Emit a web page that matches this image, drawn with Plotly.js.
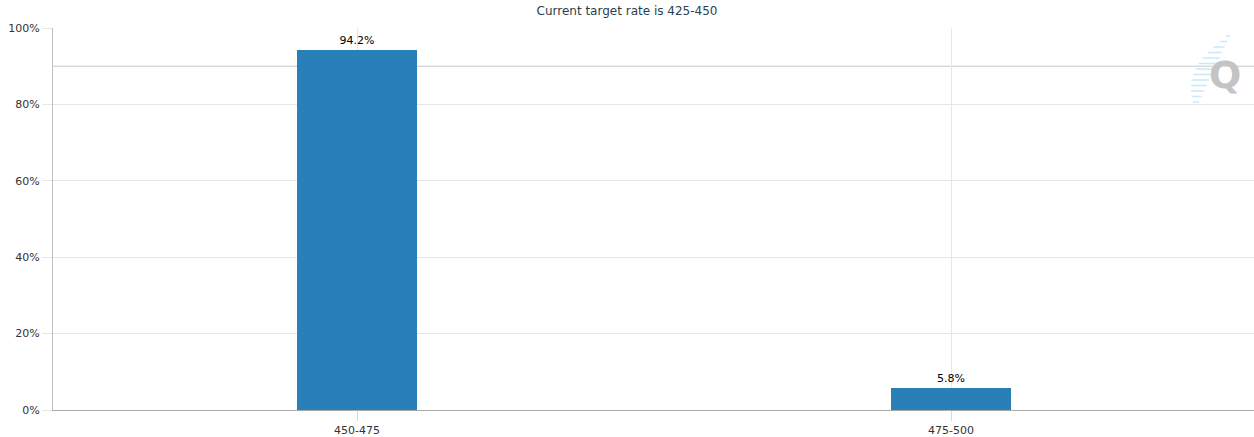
<!DOCTYPE html>
<html>
<head>
<meta charset="utf-8">
<script src="https://cdn.plot.ly/plotly-3.0.1.min.js"></script>
<style>html,body{margin:0;padding:0;background:#fff;}#chart{width:1254px;height:437px;}</style>
</head>
<body>
<div id="chart"></div>
<script>
const categories = ["450-475", "475-500"];
const probabilities = [94.2, 5.8];
const yTicks = [0, 20, 40, 60, 80, 100];
const yTickLabels = ["0%", "20%", "40%", "60%", "80%", "100%"];
const chartTitle = "Current target rate is 425-450";

const trace = {
  type: "bar",
  x: [0, 1],
  y: probabilities,
  width: 0.202,
  marker: {color: "#2980b9"},
  text: probabilities.map(v => v.toFixed(1) + "%"),
  textposition: "outside",
  textfont: {family: "DejaVu Sans, sans-serif", size: 11, color: "#000"},
  cliponaxis: false,
  hoverinfo: "none"
};

const layout = {
  width: 1254, height: 437,
  margin: {l: 53, r: 0, t: 28, b: 27},
  paper_bgcolor: "#fff", plot_bgcolor: "#fff",
  showlegend: false,
  bargap: 0,
  title: {text: chartTitle, font: {family: "DejaVu Sans, sans-serif", size: 12, color: "#2c3e50"}, x: 0.5, xanchor: "center", y: 0.975, yanchor: "middle"},
  xaxis: {
    range: [-0.5118, 1.510],
    tickvals: [0, 1], ticktext: categories,
    showgrid: true, gridcolor: "#e6e6e6", gridwidth: 1,
    showline: true, linecolor: "#aaaaaa", linewidth: 1,
    ticks: "outside", ticklen: 10, tickcolor: "#d8d8d8",
    tickfont: {family: "DejaVu Sans, sans-serif", size: 11, color: "#333"},
    zeroline: false, fixedrange: true
  },
  yaxis: {
    range: [0, 100],
    tickvals: yTicks, ticktext: yTickLabels,
    showgrid: true, gridcolor: "#e6e6e6", gridwidth: 1,
    showline: true, linecolor: "#c0c0c0", linewidth: 1,
    ticks: "outside", ticklen: 10, tickcolor: "#e6e6e6",
    tickfont: {family: "DejaVu Sans, sans-serif", size: 11, color: "#333"},
    zeroline: false, fixedrange: true
  },
  shapes: [
    {type: "line", xref: "paper", yref: "y", x0: 0, x1: 1, y0: 90, y1: 90, line: {color: "#c8c8c8", width: 1}, layer: "below"}
  ],
  annotations: []
};

// decorative watermark (logo), pixel-placed
const px2x = p => (p - 53) / 1201;
const px2y = p => (410 - p) / 382;
for (let py = 36; py <= 107; py += 5.5) {
  const t = (py - 35) / 72;
  const xr = 1230 - t * 33;
  const len = 3 + 16 * Math.sin(Math.PI * t);
  layout.shapes.push({type: "line", xref: "paper", yref: "paper",
    x0: px2x(xr - len), x1: px2x(xr), y0: px2y(py), y1: px2y(py),
    line: {color: "#c6eaf8", width: 1.5}});
}
layout.annotations.push({xref: "paper", yref: "paper", x: px2x(1225), y: px2y(75), text: "<b>Q</b>", showarrow: false,
  font: {family: "DejaVu Sans, sans-serif", size: 38, color: "#c4c4c4"}, xanchor: "center", yanchor: "middle"});

Plotly.newPlot("chart", [trace], layout, {displayModeBar: false, staticPlot: true});
</script>
</body>
</html>
